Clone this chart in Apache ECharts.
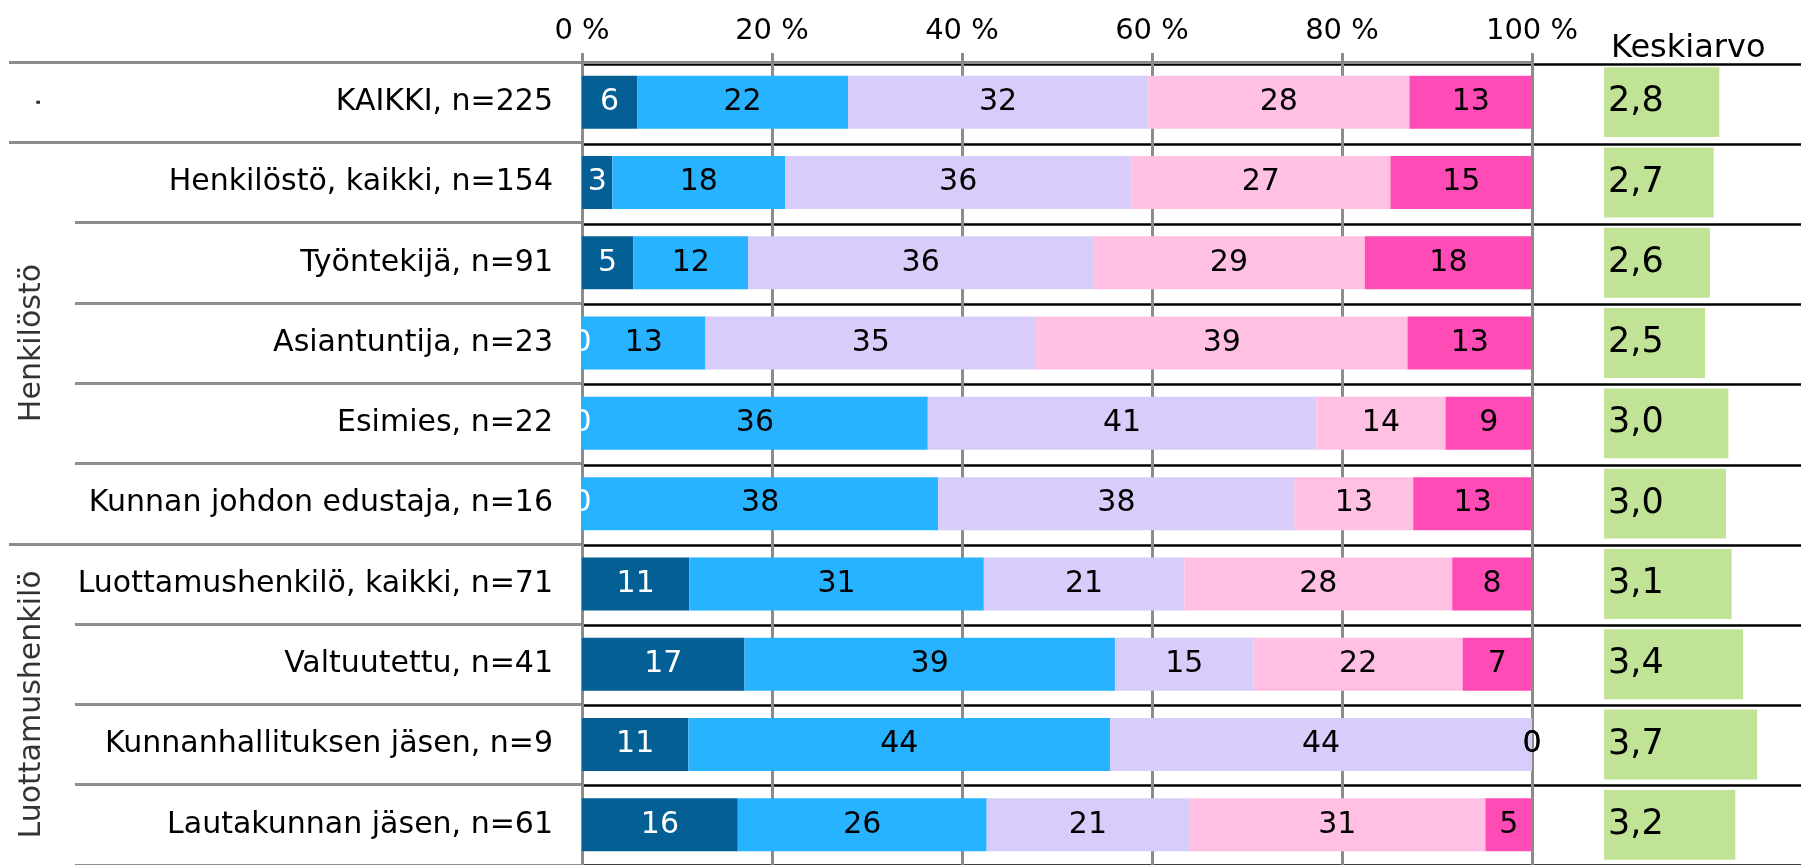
<!DOCTYPE html>
<html><head><meta charset="utf-8">
<script src="https://cdn.jsdelivr.net/npm/echarts@6/dist/echarts.min.js"></script>
<style>html,body{margin:0;padding:0;background:#fff}#c{width:1801px;height:865px}</style>
</head><body><div id="c"></div>
<script>
// ---------- data ----------
const categories = [
  'KAIKKI, n=225',
  'Henkilöstö, kaikki, n=154',
  'Työntekijä, n=91',
  'Asiantuntija, n=23',
  'Esimies, n=22',
  'Kunnan johdon edustaja, n=16',
  'Luottamushenkilö, kaikki, n=71',
  'Valtuutettu, n=41',
  'Kunnanhallituksen jäsen, n=9',
  'Lautakunnan jäsen, n=61'
];
const seriesNames = ['1', '2', '3', '4', '5'];
const s1 = [5.8, 3.2, 5.4, 0, 0, 0, 11.3, 17.1, 11.2, 16.4];
const s2 = [22.2, 18.2, 12.1, 13.0, 36.4, 37.5, 31.0, 39.0, 44.4, 26.2];
const s3 = [31.6, 36.4, 36.3, 34.8, 40.9, 37.5, 21.1, 14.6, 44.4, 21.3];
const s4 = [27.5, 27.3, 28.6, 39.1, 13.6, 12.5, 28.2, 22.0, 0, 31.2];
const s5 = [12.9, 14.9, 17.6, 13.1, 9.1, 12.5, 8.4, 7.3, 0, 4.9];
const means = [2.81, 2.67, 2.58, 2.46, 3.03, 2.97, 3.11, 3.39, 3.73, 3.20];
const pctTicks = [0, 20, 40, 60, 80, 100];
const groupNames = ['.', 'Henkilöstö', 'Luottamushenkilö'];
const groupStart = [0, 1, 6];
const groupEnd = [1, 6, 10];
const meanTitle = 'Keskiarvo';

// ---------- style ----------
const FONT = 'DejaVu Sans';
const TOP = 62, H = 808;
const gray = '#8c8c8c';
const segColors = ['#045f95', '#27b3ff', '#d7ccfa', '#ffc0e4', '#ff4bb5'];
const segLabelColors = ['#fff', '#000', '#000', '#000', '#000'];
const segData = [s1, s2, s3, s4, s5];
const N = categories.length;

const chart = echarts.init(document.getElementById('c'), null, {renderer: 'canvas'});
const option = {
  animation: false,
  backgroundColor: '#fff',
  title: {
    text: meanTitle, left: 1606, top: 28,
    textStyle: {fontFamily: FONT, fontSize: 32, fontWeight: 'normal', color: '#000'}
  },
  grid: [
    {left: 582, width: 950, top: TOP, height: H},
    {left: 1604, right: 0, top: TOP, height: H},
    {left: 582, right: 0, top: TOP + 2.5, height: H},
    {left: 75, width: 507, top: TOP, height: H},
    {left: 9, width: 573, top: TOP, height: H},
    {left: 0, width: 64, top: TOP, height: H}
  ],
  xAxis: [
    {gridIndex: 0, type: 'value', position: 'top', min: pctTicks[0], max: pctTicks[pctTicks.length - 1], interval: pctTicks[1] - pctTicks[0], z: 1,
      axisLine: {show: true, lineStyle: {color: gray, width: 3}},
      axisTick: {show: true, length: 9, lineStyle: {color: gray, width: 3}},
      axisLabel: {formatter: '{value} %', fontFamily: FONT, fontSize: 29, color: '#000', margin: 16},
      splitLine: {show: true, lineStyle: {color: gray, width: 3}}},
    {gridIndex: 1, type: 'value', min: 0, max: 4.8, show: false},
    {gridIndex: 2, type: 'value', min: 0, max: 1, show: false},
    {gridIndex: 3, type: 'value', min: 0, max: 1, show: false},
    {gridIndex: 4, type: 'value', min: 0, max: 1, show: false},
    {gridIndex: 5, type: 'value', min: 0, max: 2, show: false}
  ],
  yAxis: [
    {gridIndex: 0, type: 'category', data: categories, inverse: true, z: 1,
      axisLine: {show: true, lineStyle: {color: gray, width: 3}}, axisTick: {show: false},
      axisLabel: {fontFamily: FONT, fontSize: 30, color: '#000', margin: 29}},
    {gridIndex: 1, type: 'category', data: categories, inverse: true,
      axisLine: {show: false}, axisTick: {show: false}, axisLabel: {show: false}},
    {gridIndex: 2, type: 'value', min: 0, max: N, interval: 1, inverse: true, z: 0,
      axisLine: {show: false}, axisTick: {show: false}, axisLabel: {show: false},
      splitLine: {show: true, lineStyle: {color: '#000', width: 2.5}}},
    {gridIndex: 3, type: 'value', min: 0, max: N, interval: 1, inverse: true, z: 0,
      axisLine: {show: false}, axisTick: {show: false}, axisLabel: {show: false},
      splitLine: {show: true, lineStyle: {color: gray, width: 3}}},
    {gridIndex: 4, type: 'value', min: 0, max: N, inverse: true, show: false},
    {gridIndex: 5, type: 'value', min: 0, max: N, inverse: true, show: false}
  ],
  series: [
    ...segData.map((d, i) => ({
      type: 'bar', name: seriesNames[i], xAxisIndex: 0, yAxisIndex: 0, stack: 'total',
      data: d, barWidth: '66%', itemStyle: {color: segColors[i]},
      label: {show: true, position: 'inside', formatter: p => String(Math.round(p.value)),
        fontFamily: FONT, fontSize: 30, color: segLabelColors[i]}
    })),
    {type: 'bar', name: meanTitle, xAxisIndex: 1, yAxisIndex: 1, data: means,
      barCategoryGap: '13%', itemStyle: {color: '#c0e396'},
      label: {show: true, position: 'insideLeft', distance: 4,
        formatter: p => p.value.toFixed(1).replace('.', ','),
        fontFamily: FONT, fontSize: 35, color: '#000'}},
    {type: 'line', xAxisIndex: 4, yAxisIndex: 4, data: [], silent: true,
      markLine: {silent: true, symbol: ['none', 'none'], label: {show: false},
        lineStyle: {color: gray, width: 3, type: 'solid'},
        data: groupStart.map(v => ({yAxis: v}))}},
    {type: 'scatter', xAxisIndex: 5, yAxisIndex: 5, symbolSize: 1, silent: true,
      itemStyle: {color: 'rgba(0,0,0,0)'},
      data: groupNames.map((n, i) => ({name: n, value: [1, (groupStart[i] + groupEnd[i]) / 2]})),
      label: {show: true, position: 'inside', formatter: '{b}', rotate: 90,
        fontFamily: FONT, fontSize: 30, color: '#000'}}
  ]
};
chart.setOption(option);
</script>
</body></html>
